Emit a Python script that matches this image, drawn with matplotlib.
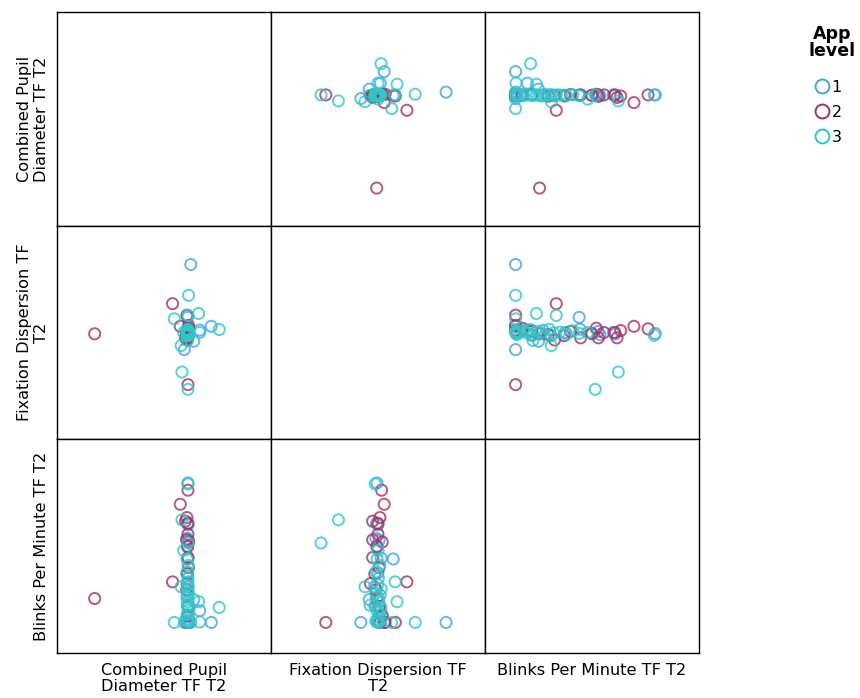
import numpy as np
import matplotlib.pyplot as plt
from matplotlib.lines import Line2D

plt.rcParams['font.family'] = ['DejaVu Sans']

# variable names (rows / columns of the matrix)
var_labels = ["Combined Pupil\nDiameter TF T2",
              "Fixation Dispersion TF\nT2",
              "Blinks Per Minute TF T2"]
levels = ["1", "2", "3"]

# App level 1
pupil1 = [0.625, 0.721, 0.667, 0.639, 0.595, 0.610, 0.612, 0.612, 0.608, 0.615,
          0.610, 0.613, 0.606, 0.612, 0.611, 0.614, 0.609, 0.612, 0.610]
fix1 = [0.818, 0.529, 0.511, 0.459, 0.420, 0.571, 0.495, 0.500, 0.505, 0.490,
        0.510, 0.485, 0.500, 0.515, 0.495, 0.505, 0.490, 0.500, 0.493]
blinks1 = [0.143, 0.143, 0.198, 0.250, 0.143, 0.440, 0.796, 0.145, 0.170, 0.220,
           0.270, 0.310, 0.374, 0.444, 0.500, 0.528, 0.537, 0.600, 0.607]

# App level 2
pupil2 = [0.176, 0.540, 0.607, 0.576, 0.612, 0.612, 0.607, 0.600, 0.612, 0.615,
          0.605, 0.612, 0.610, 0.608, 0.612, 0.610, 0.615, 0.612, 0.610, 0.612,
          0.606, 0.614]
fix2 = [0.494, 0.635, 0.581, 0.529, 0.256, 0.517, 0.509, 0.475, 0.500, 0.520,
        0.475, 0.475, 0.485, 0.465, 0.520, 0.510, 0.533, 0.500, 0.495, 0.505,
        0.490, 0.505]
blinks2 = [0.255, 0.333, 0.143, 0.696, 0.143, 0.762, 0.634, 0.617, 0.556, 0.520,
           0.530, 0.447, 0.370, 0.325, 0.175, 0.143, 0.143, 0.607, 0.498, 0.218,
           0.296, 0.400]

# App level 3
pupil3 = [0.758, 0.662, 0.615, 0.548, 0.584, 0.580, 0.612, 0.667, 0.612, 0.612,
          0.592, 0.610, 0.612, 0.608, 0.614, 0.611, 0.609, 0.613, 0.610, 0.612,
          0.607, 0.615, 0.611, 0.609, 0.612, 0.610, 0.613, 0.608]
fix3 = [0.514, 0.589, 0.674, 0.564, 0.315, 0.439, 0.234, 0.500, 0.487, 0.580,
        0.500, 0.463, 0.495, 0.505, 0.490, 0.500, 0.510, 0.495, 0.485, 0.505,
        0.500, 0.490, 0.515, 0.498, 0.502, 0.492, 0.508, 0.496]
blinks3 = [0.213, 0.240, 0.143, 0.143, 0.623, 0.310, 0.515, 0.145, 0.791, 0.333,
           0.480, 0.224, 0.145, 0.145, 0.150, 0.160, 0.180, 0.200, 0.220, 0.240,
           0.260, 0.280, 0.300, 0.320, 0.350, 0.380, 0.410, 0.440]

colors = ['#3ea2f7', '#a8305f', '#2cc9c9']

groups = [[pupil1, fix1, blinks1],
          [pupil2, fix2, blinks2],
          [pupil3, fix3, blinks3]]

fig = plt.figure(figsize=(8.6, 6.98), dpi=100)
gs = fig.add_gridspec(3, 3, left=57/860, right=699/860, top=1-12/698, bottom=1-653/698,
                      wspace=0, hspace=0)

for i in range(3):
    for j in range(3):
        ax = fig.add_subplot(gs[i, j])
        ax.set_xlim(0, 1)
        ax.set_ylim(0, 1)
        ax.set_xticks([])
        ax.set_yticks([])
        for sp in ax.spines.values():
            sp.set_linewidth(1.0)
            sp.set_color('black')
        if i != j:
            for g, c in zip(groups, colors):
                ax.scatter(g[j], g[i], s=64, facecolors='none', edgecolors=c,
                           linewidths=1.4, alpha=0.8)
        if j == 0:
            ax.set_ylabel(var_labels[i], fontsize=11.6, labelpad=6, linespacing=1.1)
        if i == 2:
            ax.set_xlabel(var_labels[j], fontsize=11.6, labelpad=7, linespacing=1.1)

# legend: bold title drawn as text, entries below it
fig.text(832/860, 1-25/698, "App\nlevel", ha='center', va='top',
         fontsize=12.5, fontweight='bold', linespacing=0.9)
handles = [Line2D([], [], marker='o', linestyle='none', markersize=10,
                  markerfacecolor='none', markeredgecolor=c, markeredgewidth=1.4)
           for c in colors]
fig.legend(handles, levels, loc='upper left', bbox_to_anchor=(814/860, 1-80/698),
           frameon=False, fontsize=11.5, handlelength=1.0, handletextpad=0.1,
           labelspacing=0.62, borderaxespad=0, borderpad=0)

fig.savefig('out.png', dpi=100)
